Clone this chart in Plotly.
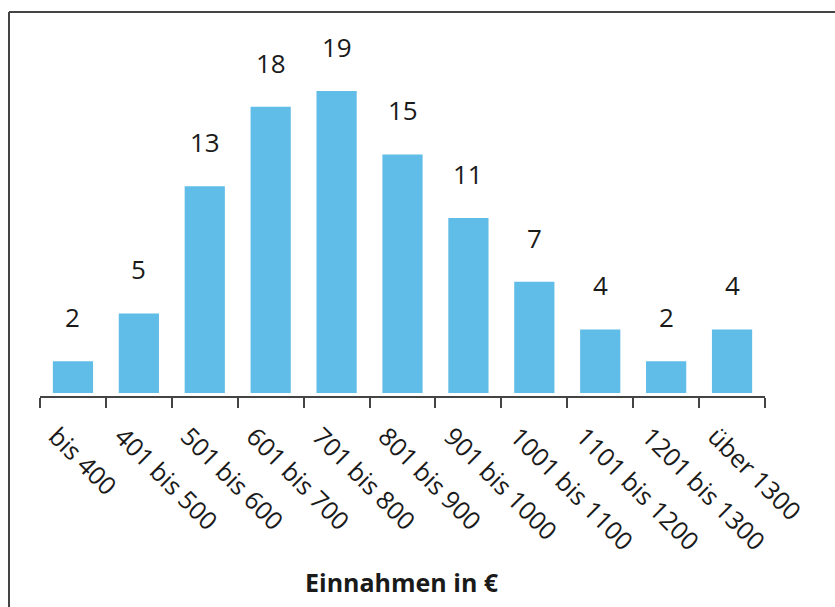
import plotly.graph_objects as go

categories = ["bis 400", "401 bis 500", "501 bis 600", "601 bis 700", "701 bis 800",
              "801 bis 900", "901 bis 1000", "1001 bis 1100", "1101 bis 1200",
              "1201 bis 1300", "über 1300"]
values = [2, 5, 13, 18, 19, 15, 11, 7, 4, 2, 4]
x_title = "Einnahmen in €"

W, H = 835, 607
L, R, T, B = 40, 70, 30, 211
pw, ph = W - L - R, H - T - B

def px_x(p):
    return (p - L) / pw

def px_y(p):
    return (H - B - p) / ph

FONT = "Open Sans, Noto Sans, DejaVu Sans, sans-serif"

fig = go.Figure()
fig.add_trace(go.Bar(
    x=categories, y=values,
    marker=dict(color="#60BDE7", line=dict(width=0)),
    width=0.61,
    hoverinfo="x+y",
))

for c, v in zip(categories, values):
    fig.add_annotation(x=c, y=v, xref="x", yref="y", text=str(v), showarrow=False,
                       yanchor="bottom", yshift=24,
                       font=dict(family=FONT, size=26, color="#1a1a1a"))

fig.add_annotation(x=px_x(402), y=px_y(582), xref="paper", yref="paper", text="<b>%s</b>" % x_title,
                   showarrow=False, xanchor="center", yanchor="middle",
                   font=dict(family=FONT, size=25, color="#1a1a1a"))

# frame lines (top and left)
fig.add_shape(type="line", xref="paper", yref="paper",
              x0=px_x(9), x1=px_x(836), y0=px_y(12), y1=px_y(12),
              line=dict(color="#444444", width=2))
fig.add_shape(type="line", xref="paper", yref="paper",
              x0=px_x(9), x1=px_x(9), y0=px_y(12), y1=px_y(608),
              line=dict(color="#444444", width=2))

fig.update_layout(
    width=W, height=H,
    margin=dict(l=L, r=R, t=T, b=B),
    plot_bgcolor="white", paper_bgcolor="white",
    showlegend=False,
    bargap=0.39,
)
fig.update_xaxes(
    type="category", range=[-0.5, 10.5],
    showline=True, linecolor="#444444", linewidth=2,
    ticks="outside", tickson="boundaries", ticklen=10, tickwidth=2, tickcolor="#444444",
    tickangle=45, ticklabelshift=-17, ticklabelstandoff=14,
    tickfont=dict(family=FONT, size=25, color="#1a1a1a"),
    showgrid=False, zeroline=False, fixedrange=True,
)
fig.update_yaxes(
    range=[-0.19, 22.83], visible=False, showgrid=False, zeroline=False, fixedrange=True,
)

fig.write_html("out.html")
